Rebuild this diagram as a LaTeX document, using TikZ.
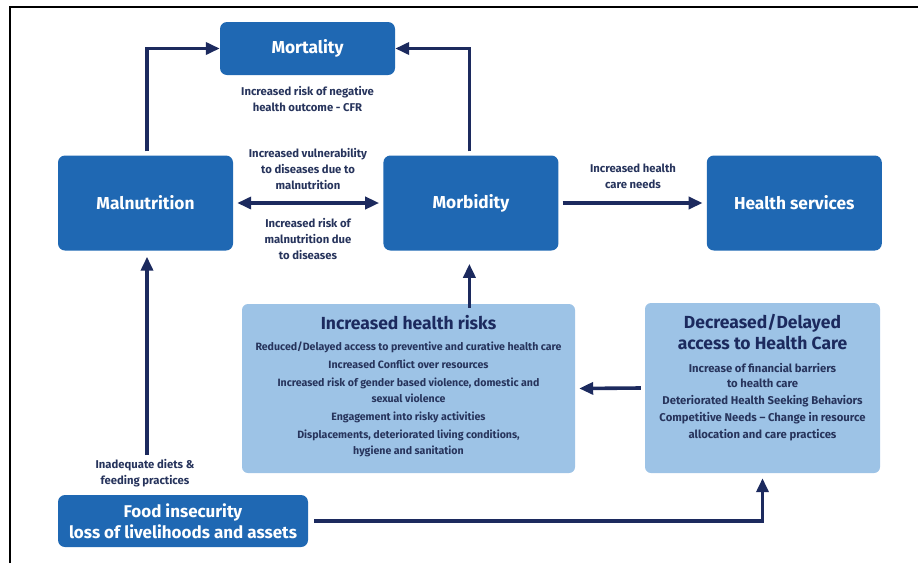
\documentclass[tikz,border=0pt]{standalone}
\usepackage{fontspec}
\setmainfont{Fira Sans}
\usetikzlibrary{arrows.meta,positioning}

\definecolor{boxblue}{HTML}{1F68B3}
\definecolor{lightblue}{HTML}{9DC3E6}
\definecolor{navy}{HTML}{1C2A5E}
\definecolor{notetext}{HTML}{27345C}

\begin{document}
\begin{tikzpicture}[
    x=1pt, y=-1pt,
    node distance=20pt and 150pt,
    mainbox/.style={fill=boxblue, rounded corners=7pt, minimum width=175pt, minimum height=95pt, align=center, text=white, font=\fontsize{17.3}{21}\selectfont\bfseries},
    riskbox/.style={fill=lightblue, rounded corners=6pt, inner sep=0pt},
    boxtitle/.style={align=center, text=navy, font=\fontsize{17.5}{21}\selectfont\bfseries},
    note/.style={align=center, text=notetext, font=\fontsize{11.3}{16}\selectfont\bfseries},
    arrow/.style={-{Triangle[length=14pt,width=12pt]}, line width=3.6pt, navy}
]
\useasboundingbox (0,0) rectangle (918,563);
\draw[line width=1.4pt] (10,563) -- (10,7) -- (918,7);

% Main row
\node[mainbox] (malnut) at (145.5,203) {Malnutrition};
\node[mainbox, right=of malnut] (morbid) {Morbidity};
\node[mainbox, right=148pt of morbid] (services) {Health services};
\node[mainbox, minimum height=53pt] (mortal) at (307.5,48.5) {Mortality};

% Light boxes
\node[riskbox, minimum width=333pt, minimum height=169pt] (risks) at (408.5,388.5) {};
\node[riskbox, minimum width=235pt, minimum height=170pt] (access) at (762.5,388) {};
\node[boxtitle] (riskstitle) at (408.5,323) {Increased health risks};
\node[note, font=\fontsize{10.6}{18}\selectfont\bfseries] (risklist) at (408.5,399) {Reduced/Delayed access to preventive and curative health care\\
Increased Conflict over resources\\
Increased risk of gender based violence, domestic and\\[-2pt]
sexual violence\\
Engagement into risky activities\\
Displacements, deteriorated living conditions,\\[-2pt]
hygiene and sanitation};
\node[boxtitle] (accesstitle) at (762.5,332.5) {Decreased/Delayed\\access to Health Care};
\node[note, font=\fontsize{11.3}{17}\selectfont\bfseries] (accesslist) at (762.5,402) {Increase of financial barriers\\[-2pt]
to health care\\
Deteriorated Health Seeking Behaviors\\
Competitive Needs -- Change in resource\\
allocation and care practices};

% Food insecurity
\node[mainbox, minimum width=250pt, minimum height=52pt, font=\fontsize{17}{21}\selectfont\bfseries] (food) at (183,521) {Food insecurity\\loss of livelihoods and assets};

% Labels
\node[note] (mortnote) at (307.5,99) {Increased risk of negative\\health outcome - CFR};
\node[note] (vulnote) at (308,169) {Increased vulnerability\\to diseases due to\\malnutrition};
\node[note] (risknote) at (308,239) {Increased risk of\\malnutrition due\\to diseases};
\node[note] (carenote) at (633,176) {Increased health\\care needs};
\node[note] (dietnote) at (145,473.5) {Inadequate diets \&\\feeding practices};

% Arrows
\draw[arrow] (malnut.north) ++(1.5,-4) |- (mortal.west);
\draw[arrow] (morbid.north) ++(-1.5,-4) |- (mortal.east);
\draw[{Triangle[length=14pt,width=12pt]}-{Triangle[length=14pt,width=12pt]}, line width=3.6pt, navy] ([xshift=4pt]malnut.east) -- ([xshift=-4pt]morbid.west);
\draw[arrow] ([xshift=4pt]morbid.east) -- ([xshift=-4pt]services.west);
\draw[arrow] ([yshift=-4pt]risks.north -| morbid.south) ++(-1.5,0) -- ++(0,-44);
\draw[arrow] ([xshift=-4pt]access.west) -- ([xshift=4pt]risks.east);
\draw[arrow] (147,455) -- ([yshift=-6pt]malnut.south -| 147,0);
\draw[arrow] ([xshift=6pt]food.east) -| ([yshift=-5pt]access.south);

\end{tikzpicture}
\end{document}
